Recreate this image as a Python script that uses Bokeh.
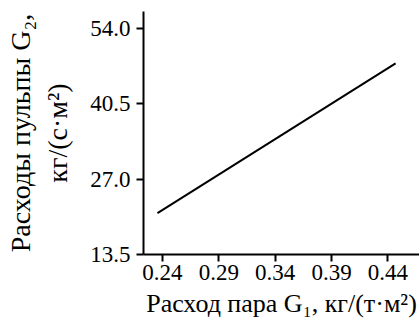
from bokeh.plotting import figure
from bokeh.models import FixedTicker, PrintfTickFormatter, Range1d
from bokeh.embed import file_html
from bokeh.resources import INLINE

# data
g1 = [0.2356, 0.4468]
g2 = [20.9, 47.7]
x_ticks = [0.24, 0.29, 0.34, 0.39, 0.44]
y_ticks = [13.5, 27.0, 40.5, 54.0]
x_title = "Расход пара G₁, кг/(т·м²)"
y_title = "Расходы пульпы G₂,\nкг/(с·м²)"

FONT = "Liberation Serif"

p = figure(width=419, height=320, output_backend="svg", toolbar_location=None,
           x_range=Range1d(0.2232, 0.468), y_range=Range1d(13.5, 57.0),
           min_border_left=143, min_border_right=0, min_border_top=11, min_border_bottom=66)
p.outline_line_color = None
p.grid.visible = False
p.background_fill_color = "white"
p.border_fill_color = "white"

p.line(g1, g2, line_color="black", line_width=2)

for ax in (p.xaxis[0], p.yaxis[0]):
    ax.axis_line_color = "black"
    ax.axis_line_width = 2
    ax.major_tick_line_color = "black"
    ax.major_tick_line_width = 2
    ax.major_tick_out = 7
    ax.major_tick_in = 0
    ax.minor_tick_line_color = None
    ax.major_label_text_font = FONT
    ax.major_label_text_font_size = "23px"
    ax.major_label_text_color = "black"
    ax.axis_label_text_font = FONT
    ax.axis_label_text_font_size = "28px"
    ax.axis_label_text_font_style = "normal"
    ax.axis_label_text_color = "black"

p.xaxis[0].axis_label_text_font_size = "26px"

p.xaxis.ticker = FixedTicker(ticks=x_ticks)
p.yaxis.ticker = FixedTicker(ticks=y_ticks)
p.xaxis.formatter = PrintfTickFormatter(format="%.2f")
p.yaxis.formatter = PrintfTickFormatter(format="%.1f")
p.xaxis.axis_label = x_title
p.yaxis.axis_label = y_title
p.xaxis.major_label_standoff = 3
p.yaxis.major_label_standoff = 6
p.xaxis.axis_label_standoff = 6
p.yaxis.axis_label_standoff = 14

open("out.html", "w").write(file_html(p, INLINE))
